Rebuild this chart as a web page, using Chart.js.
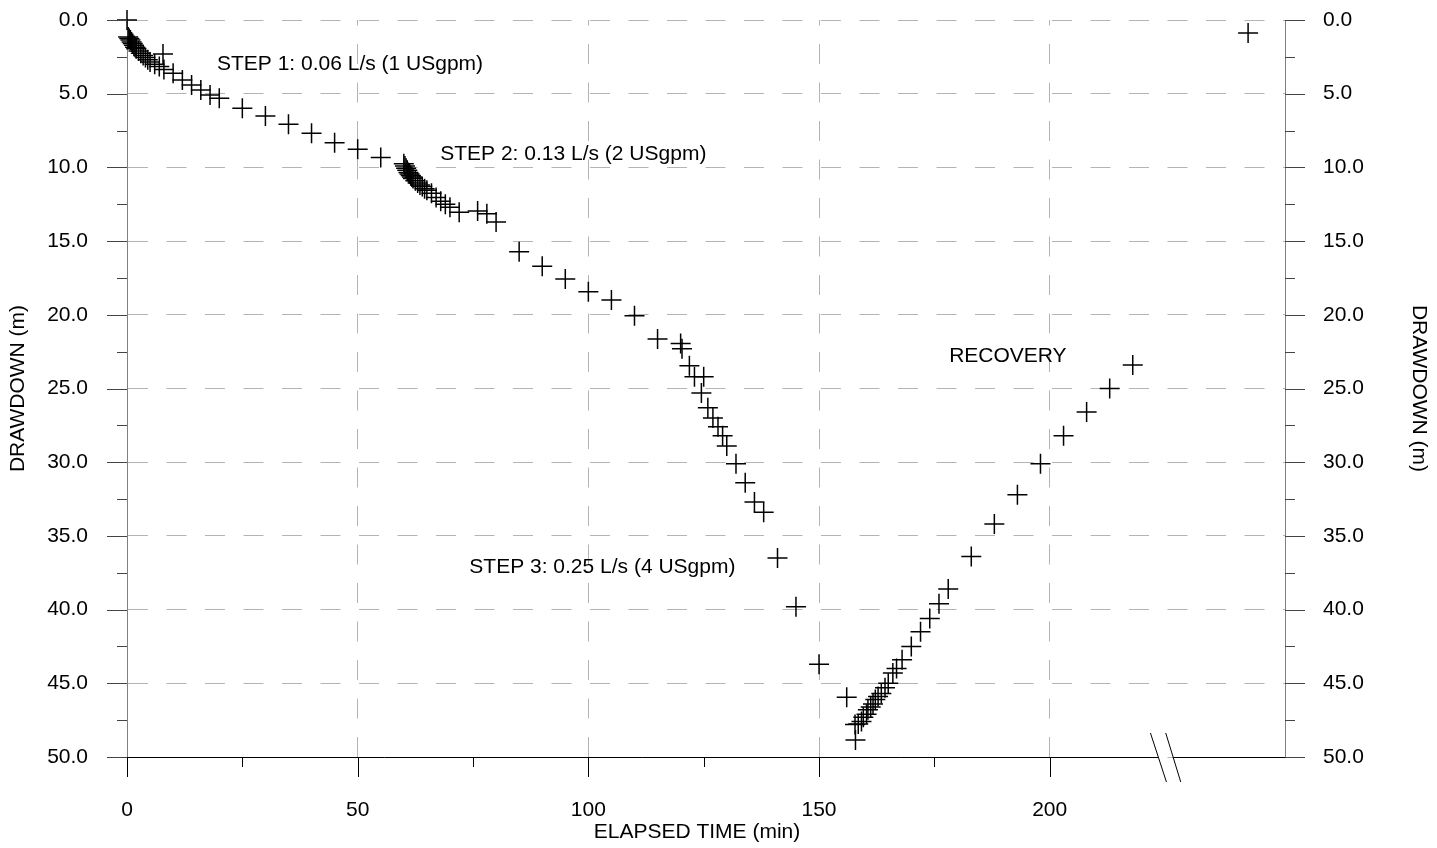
<!DOCTYPE html>
<html>
<head>
<meta charset="utf-8">
<script src="https://cdn.jsdelivr.net/npm/chart.js@4/dist/chart.umd.min.js"></script>
<style>
html,body{margin:0;padding:0;background:#ffffff;}
canvas{display:block;}
</style>
</head>
<body>
<canvas id="chart" width="1437" height="848"></canvas>
<script>
// ---- data (elapsed time in min, drawdown in m) ----
const step1Time = [0, 0.25, 0.5, 0.75, 1, 1.25, 1.5, 1.75, 2, 2.5, 3, 3.5, 4, 4.5, 5, 6, 7, 7.8, 8, 10, 12, 14, 16, 18, 20, 25, 30, 35, 40, 45, 50, 55];
const step1Drawdown = [0, 1.15, 1.25, 1.35, 1.5, 1.6, 1.72, 1.85, 1.95, 2.1, 2.25, 2.4, 2.55, 2.7, 2.85, 3.0, 3.15, 2.3, 3.35, 3.62, 4.07, 4.41, 4.75, 5.09, 5.31, 5.99, 6.51, 7.08, 7.69, 8.32, 8.77, 9.32];

const step2Time = [60, 60.25, 60.5, 60.75, 61, 61.25, 61.5, 61.75, 62, 62.5, 63, 63.5, 64, 64.5, 65, 66, 67, 68, 69, 70, 72, 76, 78, 80];
const step2Drawdown = [9.75, 9.9, 10.05, 10.2, 10.35, 10.45, 10.55, 10.65, 10.75, 10.9, 11.05, 11.2, 11.3, 11.45, 11.55, 11.75, 12.05, 12.3, 12.5, 12.7, 13.05, 12.95, 13.15, 13.7];

const step3Time = [85, 90, 95, 100, 105, 110, 115, 120, 120.3, 121.9, 123, 125, 124.5, 125.9, 127, 128.1, 129.1, 130, 132, 134, 136, 138, 141, 145, 150, 156, 157.9];
const step3Drawdown = [15.72, 16.7, 17.57, 18.43, 19.0, 20.06, 21.64, 21.94, 22.3, 23.45, 24.2, 24.2, 25.3, 26.3, 27.0, 27.6, 28.2, 28.9, 30.1, 31.4, 32.7, 33.4, 36.5, 39.8, 43.7, 45.95, 48.85];

const recoveryTime = [157.8, 158.5, 159.2, 159.6, 160.3, 160.6, 161.2, 161.7, 162.2, 162.8, 163.5, 164.3, 165, 166, 166.8, 168, 170, 172, 174, 176, 178, 183, 188, 193, 198, 203, 208, 213, 218, 243];
const recoveryDrawdown = [47.8, 47.76, 47.6, 47.3, 47.1, 46.8, 46.6, 46.4, 46.1, 45.9, 45.7, 45.3, 45.0, 44.3, 44.0, 43.4, 42.5, 41.5, 40.6, 39.6, 38.6, 36.4, 34.2, 32.2, 30.1, 28.2, 26.6, 25.0, 23.4, 0.88];

// ---- axes ----
const xMajorTicks = [0, 50, 100, 150, 200];
const xMinorTicks = [25, 75, 125, 175];
const yMajorTicks = [0, 5, 10, 15, 20, 25, 30, 35, 40, 45, 50];
const yMinorTicks = [2.5, 7.5, 12.5, 17.5, 22.5, 27.5, 32.5, 37.5, 42.5, 47.5];
const axisBreakTime = 225;
const xTitle = 'ELAPSED TIME (min)';
const yTitle = 'DRAWDOWN (m)';

// ---- annotations ----
const noteText = ['STEP 1: 0.06 L/s (1 USgpm)', 'STEP 2: 0.13 L/s (2 USgpm)', 'STEP 3: 0.25 L/s (4 USgpm)', 'RECOVERY'];
const noteTime = [19.5, 67.9, 74.2, 178.2];
const noteDrawdown = [3.02, 9.09, 37.1, 22.8];

const FONT = "'Liberation Sans', Arial, sans-serif";
const toXY = (ts, ds) => ts.map((t, i) => ({x: t, y: ds[i]}));

const markerStyle = {
  showLine: false,
  pointStyle: 'cross',
  pointRadius: 10,
  pointHoverRadius: 10,
  pointBorderColor: '#000',
  pointBorderWidth: 1.5,
  borderColor: '#000',
  backgroundColor: '#000',
  clip: false
};

const decor = {
  id: 'decor',
  afterDraw(chart) {
    const {ctx, chartArea: a, scales} = chart;
    const x = scales.x, y = scales.y;
    ctx.save();
    ctx.lineWidth = 1;
    // y ticks (both sides)
    ctx.strokeStyle = '#444';
    const yt = (v, len) => {
      const p = Math.round(y.getPixelForValue(v)) + 0.5;
      ctx.beginPath();
      ctx.moveTo(a.left - len, p); ctx.lineTo(a.left, p);
      ctx.moveTo(a.right, p); ctx.lineTo(a.right + len, p);
      ctx.stroke();
    };
    yMajorTicks.forEach(v => yt(v, 20));
    yMinorTicks.forEach(v => yt(v, 10));
    // x axis line with break
    ctx.strokeStyle = '#000';
    const bx = x.getPixelForValue(axisBreakTime);
    const yb = Math.round(a.bottom) + 0.5;
    ctx.beginPath();
    ctx.moveTo(a.left, yb); ctx.lineTo(bx - 7, yb);
    ctx.moveTo(bx + 8, yb); ctx.lineTo(a.right, yb);
    ctx.stroke();
    ctx.beginPath();
    ctx.moveTo(bx - 14.6, a.bottom - 24); ctx.lineTo(bx + 1.4, a.bottom + 25);
    ctx.moveTo(bx + 0.7, a.bottom - 24); ctx.lineTo(bx + 15.7, a.bottom + 25);
    ctx.stroke();
    // x ticks
    const xt = (v, len) => {
      const p = Math.round(x.getPixelForValue(v)) + 0.5;
      ctx.beginPath(); ctx.moveTo(p, a.bottom); ctx.lineTo(p, a.bottom + len); ctx.stroke();
    };
    xMajorTicks.forEach(v => xt(v, 20));
    xMinorTicks.forEach(v => xt(v, 10));
    // texts
    ctx.fillStyle = '#000';
    ctx.font = '21px ' + FONT;
    ctx.textBaseline = 'middle';
    ctx.textAlign = 'center';
    ctx.fillText(xTitle, (a.left + a.right) / 2 - 9, x.bottom - 16);
    ctx.textAlign = 'left';
    noteText.forEach((t, i) => {
      ctx.fillText(t, x.getPixelForValue(noteTime[i]), y.getPixelForValue(noteDrawdown[i]));
    });
    ctx.restore();
  }
};

const tickFont = {family: FONT, size: 21};
const noPad = s => { s.paddingTop = 0; s.paddingBottom = 0; s.paddingLeft = 0; s.paddingRight = 0; };

new Chart(document.getElementById('chart'), {
  type: 'scatter',
  data: {
    datasets: [
      Object.assign({label: 'Step 1', data: toXY(step1Time, step1Drawdown)}, markerStyle),
      Object.assign({label: 'Step 2', data: toXY(step2Time, step2Drawdown)}, markerStyle),
      Object.assign({label: 'Step 3', data: toXY(step3Time, step3Drawdown)}, markerStyle),
      Object.assign({label: 'Recovery', data: toXY(recoveryTime, recoveryDrawdown)}, markerStyle)
    ]
  },
  options: {
    responsive: false,
    animation: false,
    devicePixelRatio: 1,
    events: [],
    layout: {padding: {top: 20, left: 0, right: 0, bottom: 0}},
    plugins: {legend: {display: false}, tooltip: {enabled: false}},
    scales: {
      x: {
        type: 'linear', position: 'bottom', min: 0, max: 251,
        afterBuildTicks: s => { s.ticks = xMajorTicks.map(v => ({value: v})); },
        afterFit: s => { s.height = 91; noPad(s); },
        border: {display: false, dash: [20, 18.5], dashOffset: 14.5},
        grid: {
          drawTicks: false,
          color: c => (c.tick && c.tick.value === 0) ? 'rgba(0,0,0,0)' : '#b4b4b4',
          lineWidth: 1
        },
        ticks: {padding: 41, font: tickFont, color: '#000', maxRotation: 0, autoSkip: false, callback: v => String(v)},
        title: {display: false}
      },
      y: {
        type: 'linear', position: 'left', min: 0, max: 50, reverse: true,
        afterBuildTicks: s => { s.ticks = yMajorTicks.map(v => ({value: v})); },
        afterFit: s => { s.width = 127; noPad(s); },
        border: {display: true, color: '#808080', width: 1, dash: [20, 18.5]},
        grid: {drawTicks: false, color: '#b4b4b4', lineWidth: 1},
        ticks: {padding: 39, font: tickFont, color: '#000', autoSkip: false, callback: v => Number(v).toFixed(1)},
        title: {display: true, text: yTitle, font: tickFont, color: '#000', padding: {top: 6, bottom: 0}}
      },
      y2: {
        type: 'linear', position: 'right', min: 0, max: 50, reverse: true,
        afterBuildTicks: s => { s.ticks = yMajorTicks.map(v => ({value: v})); },
        afterFit: s => { s.width = 152; noPad(s); },
        border: {display: true, color: '#808080', width: 1},
        grid: {display: false, drawTicks: false},
        ticks: {padding: 38, font: tickFont, color: '#000', autoSkip: false, callback: v => Number(v).toFixed(1)},
        title: {display: true, text: yTitle, font: tickFont, color: '#000', padding: {top: 6, bottom: 0}}
      }
    }
  },
  plugins: [decor]
});
</script>
</body>
</html>
